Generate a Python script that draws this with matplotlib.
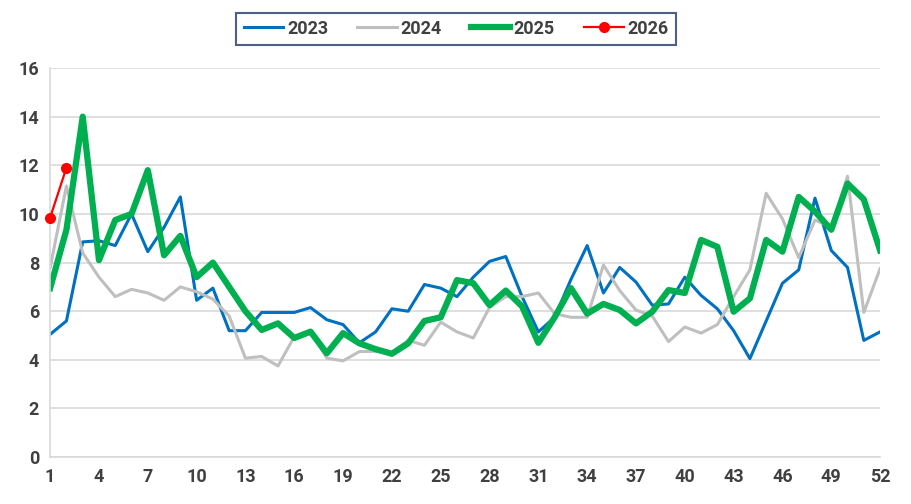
import matplotlib.pyplot as plt
import numpy as np

plt.rcParams['font.family'] = ['Roboto', 'DejaVu Sans']

semanas = np.arange(1, 53)

s2023 = [5.05, 5.6, 8.85, 8.9, 8.7, 10.0, 8.45, 9.45, 10.7, 6.45,
         6.95, 5.2, 5.2, 5.95, 5.95, 5.95, 6.15, 5.65, 5.45, 4.7,
         5.15, 6.1, 6.0, 7.1, 6.95, 6.6, 7.4, 8.05, 8.25, 6.6,
         5.15, 5.75, 7.3, 8.7, 6.75, 7.8, 7.2, 6.25, 6.3, 7.4,
         6.65, 6.1, 5.2, 4.05, 5.6, 7.15, 7.7, 10.65, 8.5, 7.8,
         4.8, 5.15]
s2024 = [7.8, 11.15, 8.4, 7.4, 6.6, 6.9, 6.75, 6.45, 7.0, 6.8,
         6.5, 5.8, 4.07, 4.14, 3.75, 4.95, 5.2, 4.07, 3.96, 4.34,
         4.35, 4.3, 4.8, 4.6, 5.55, 5.15, 4.9, 6.15, 6.6, 6.6,
         6.75, 5.9, 5.75, 5.75, 7.9, 6.85, 6.05, 5.8, 4.75, 5.35,
         5.1, 5.45, 6.6, 7.7, 10.85, 9.8, 8.2, 9.75, 9.45, 11.55,
         5.95, 7.75]
s2025 = [6.95, 9.35, 14.0, 8.1, 9.75, 10.0, 11.8, 8.3, 9.1, 7.4,
         8.0, 7.0, 6.0, 5.23, 5.5, 4.9, 5.16, 4.27, 5.1, 4.68,
         4.44, 4.25, 4.68, 5.6, 5.75, 7.28, 7.15, 6.25, 6.85, 6.2,
         4.7, 5.75, 6.95, 5.9, 6.3, 6.05, 5.5, 5.98, 6.87, 6.75,
         8.93, 8.65, 5.98, 6.53, 8.93, 8.45, 10.7, 10.1, 9.35, 11.25,
         10.6, 8.5]
s2026 = [9.85, 11.9]

fig = plt.figure(figsize=(9.12, 5.04), dpi=100)
ax = fig.add_axes([0.055, 0.093, 0.91, 0.772])

ax.plot(semanas, s2023, color='#0070C0', lw=2.2, label='2023')
ax.plot(semanas, s2024, color='#BFBFBF', lw=2.2, label='2024')
ax.plot(semanas, s2025, color='#00B050', lw=4.5, label='2025')
ax.plot(semanas[:len(s2026)], s2026, color='#FF0000', lw=1.6,
        marker='o', ms=7, label='2026', clip_on=False, zorder=5)

ax.set_xlim(1, 52)
ax.set_ylim(0, 16)
ax.set_xticks(np.arange(1, 53, 3))
ax.set_yticks(np.arange(0, 17, 2))
ax.grid(axis='y', color='#D9D9D9', lw=1.2)
ax.set_axisbelow(True)
for s in ['top', 'right']:
    ax.spines[s].set_visible(False)
for s in ['left', 'bottom']:
    ax.spines[s].set_color('#D9D9D9')
    ax.spines[s].set_linewidth(1.2)
ax.tick_params(length=0, pad=8, labelsize=13, labelcolor='#404040')
for lbl in ax.get_xticklabels() + ax.get_yticklabels():
    lbl.set_fontweight('bold')

leg = fig.legend(loc='center', bbox_to_anchor=(0.5, 0.943), ncol=4,
                 frameon=True, fancybox=False, handlelength=2.2,
                 columnspacing=1.6, handletextpad=0.2,
                 prop={'weight': 'bold', 'size': 13})
leg.get_frame().set_edgecolor('#1F3864')
leg.get_frame().set_linewidth(1.5)
for t in leg.get_texts():
    t.set_color('#404040')

fig.savefig('out.png', dpi=100)
